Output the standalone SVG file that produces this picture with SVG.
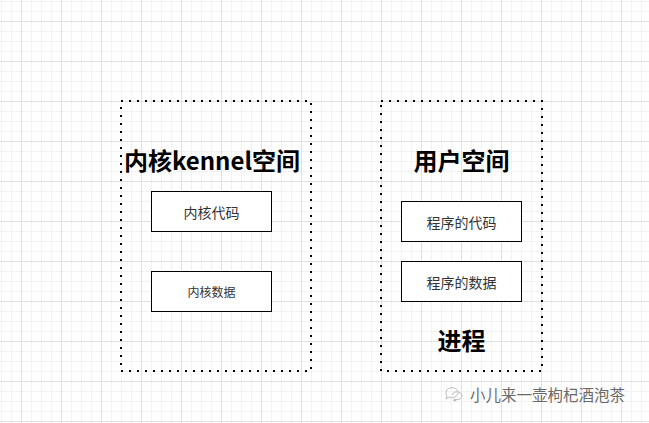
<svg xmlns="http://www.w3.org/2000/svg" width="649" height="423" viewBox="0 0 649 423">
<defs>
<pattern id="minor" x="1" y="1" width="10" height="10" patternUnits="userSpaceOnUse">
<path d="M0.5 0V10M0 0.5H10" stroke="#f2f2f2" stroke-width="1" fill="none"/>
</pattern>
<pattern id="major" x="21" y="21" width="40" height="40" patternUnits="userSpaceOnUse">
<path d="M0.5 0V40M0 0.5H40" stroke="#e0e0e0" stroke-width="1" fill="none"/>
</pattern>
</defs>
<style>
.zone{fill:none;stroke:#000;stroke-width:2;stroke-dasharray:2 6;}
.box{fill:#fff;stroke:#000;stroke-width:1;}
.title{font-family:"Noto Sans CJK SC","Liberation Sans",sans-serif;font-weight:bold;font-size:24px;fill:#000;text-anchor:middle;}
.lbl{font-family:"Noto Sans CJK SC","Liberation Sans",sans-serif;fill:#333;text-anchor:middle;dominant-baseline:central;}
.wm{font-family:"Noto Sans CJK SC",sans-serif;font-size:15.5px;fill:#6a6a6a;}
</style>
<rect width="649" height="423" fill="#fff"/>
<rect width="649" height="423" fill="url(#minor)"/>
<rect width="649" height="423" fill="url(#major)"/>
<g id="kernel-space">
<rect class="zone" x="121" y="101" width="190" height="270"/>
<text class="title" x="212" y="170">内核kennel空间</text>
</g>
<g id="kernel-code">
<rect class="box" x="151.5" y="191.5" width="120" height="40"/>
<text class="lbl" x="211.5" y="211.5" font-size="14">内核代码</text>
</g>
<g id="kernel-data">
<rect class="box" x="151.5" y="271.5" width="120" height="40"/>
<text class="lbl" x="211.5" y="291.5" font-size="12">内核数据</text>
</g>
<g id="user-space">
<rect class="zone" x="381" y="101" width="161" height="270"/>
<text class="title" x="461.5" y="170">用户空间</text>
<text class="title" x="461.5" y="350">进程</text>
</g>
<g id="prog-code">
<rect class="box" x="401.5" y="201.5" width="120" height="40"/>
<text class="lbl" x="461.5" y="221.5" font-size="14">程序的代码</text>
</g>
<g id="prog-data">
<rect class="box" x="401.5" y="261.5" width="120" height="40"/>
<text class="lbl" x="461.5" y="281.5" font-size="14">程序的数据</text>
</g>
<g id="connectors"></g>
<g id="watermark">
<path d="M446 392a6 5 0 1 1 3 5l-3 2 1-3a6 5 0 0 1-1-4z" fill="none" stroke="#bbb" stroke-width="1"/>
<path d="M452 395a5 4 0 1 1 2 4l2 2-3-1" fill="none" stroke="#bbb" stroke-width="1"/>
<text class="wm" x="470" y="400.5">小儿来一壶枸杞酒泡茶</text>
</g>
</svg>
